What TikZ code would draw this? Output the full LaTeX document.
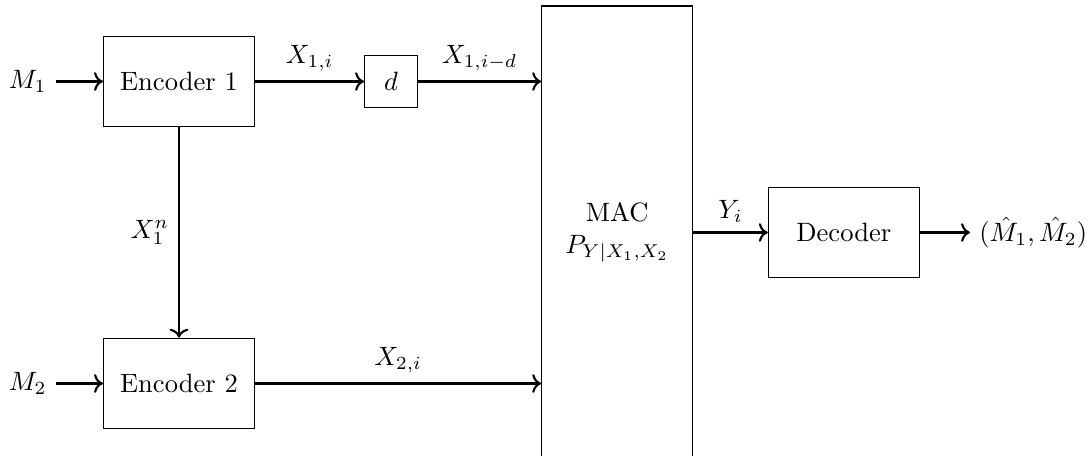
\documentclass[tikz,border=0pt]{standalone}
\usetikzlibrary{arrows.meta}
\begin{document}
\begin{tikzpicture}[x=0.013245cm,y=-0.013245cm,
  blk/.style={draw, minimum width=2cm, minimum height=1.2cm, inner sep=0pt},
  sq/.style={draw, minimum size=0.7cm, inner sep=0pt},
  conn/.style={->, thick},
  lbl/.style={above}]
\useasboundingbox (0,0) rectangle (1090,456);
\node[blk] (enc1) at (179,81.5) {Encoder 1};
\node[blk] (enc2) at (179,383.5) {Encoder 2};
\node[sq] (d) at (391,81.5) {$d$};
\node[draw, minimum width=2cm, minimum height=6cm, align=center] (mac) at (617.2,232.5) {MAC\\$P_{Y|X_1,X_2}$};
\node[blk] (dec) at (843.8,232.5) {Decoder};
\node[anchor=east] (m1) at (56,81.5) {$M_1$};
\node[anchor=east] (m2) at (56,383.5) {$M_2$};
\node[anchor=west] (out) at (970,232.5) {$(\hat{M}_1,\hat{M}_2)$};
\draw[conn] (m1) -- (enc1);
\draw[conn] (m2) -- (enc2);
\draw[conn] (enc1) -- node[lbl] {$X_{1,i}$} (d);
\draw[conn] (d.east) -- node[lbl] {$X_{1,i-d}$} (d.east -| mac.west);
\draw[conn] (enc2.east) -- node[lbl] {$X_{2,i}$} (enc2.east -| mac.west);
\draw[conn] (enc1) -- node[left] {$X_1^n$} (enc2);
\draw[conn] (mac.east |- dec.west) -- node[lbl] {$Y_i$} (dec.west);
\draw[conn] (dec) -- (out);
\end{tikzpicture}
\end{document}
